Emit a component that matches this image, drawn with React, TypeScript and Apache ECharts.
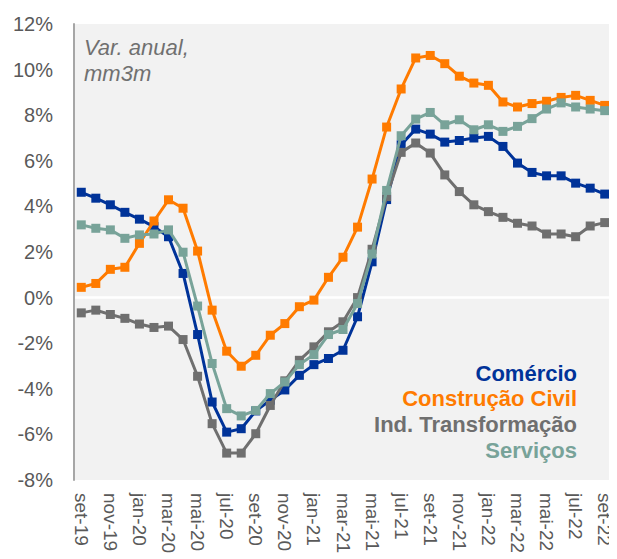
import React, { useEffect, useRef } from "react";
import * as echarts from "echarts";

const categories = [
  "set-19", "out-19", "nov-19", "dez-19", "jan-20", "fev-20", "mar-20", "abr-20", "mai-20", "jun-20",
  "jul-20", "ago-20", "set-20", "out-20", "nov-20", "dez-20", "jan-21", "fev-21", "mar-21", "abr-21",
  "mai-21", "jun-21", "jul-21", "ago-21", "set-21", "out-21", "nov-21", "dez-21", "jan-22", "fev-22",
  "mar-22", "abr-22", "mai-22", "jun-22", "jul-22", "ago-22", "set-22",
];

const comercio = [
  4.62, 4.36, 4.07, 3.74, 3.44, 3.11, 2.67, 1.06, -1.62, -4.58,
  -5.9, -5.75, -4.97, -4.5, -4.05, -3.41, -2.94, -2.67, -2.31, -0.84,
  1.57, 4.3, 6.7, 7.39, 7.17, 6.82, 6.89, 7.0, 7.07, 6.63,
  5.9, 5.49, 5.34, 5.34, 5.02, 4.8, 4.54,
];

const construcao = [
  0.45, 0.62, 1.24, 1.33, 2.38, 3.36, 4.29, 3.92, 2.04, -0.55,
  -2.35, -3.01, -2.53, -1.65, -1.14, -0.4, -0.11, 0.89, 1.77, 3.09,
  5.2, 7.48, 9.15, 10.51, 10.62, 10.26, 9.71, 9.41, 9.31, 8.58,
  8.36, 8.51, 8.61, 8.78, 8.87, 8.65, 8.43,
];

const industria = [
  -0.67, -0.55, -0.74, -0.91, -1.16, -1.31, -1.25, -1.84, -3.45, -5.53,
  -6.82, -6.82, -5.97, -4.73, -3.65, -2.75, -2.16, -1.5, -1.06, 0.0,
  2.12, 4.43, 6.37, 6.78, 6.34, 5.38, 4.65, 4.07, 3.77, 3.52,
  3.26, 3.14, 2.79, 2.79, 2.67, 3.14, 3.29,
];

const servicos = [
  3.19, 3.04, 2.97, 2.6, 2.75, 2.79, 2.97, 1.99, -0.37, -2.89,
  -4.87, -5.19, -4.95, -4.21, -3.7, -2.94, -2.5, -1.62, -1.4, -0.26,
  1.91, 4.7, 7.1, 7.83, 8.12, 7.58, 7.8, 7.36, 7.58, 7.29,
  7.51, 7.85, 8.27, 8.54, 8.36, 8.27, 8.2,
];

const seriesNames = ["Comércio", "Construção Civil", "Ind. Transformação", "Serviços"];
const seriesColors = ["#003399", "#FF7B00", "#6F6F6F", "#78A399"];
const seriesData = [comercio, construcao, industria, servicos];

const yMin = -8;
const yMax = 12;
const yInterval = 2;

const FONT = "'Liberation Sans', Arial, sans-serif";

export default function App() {
  const ref = useRef<HTMLDivElement>(null);

  useEffect(() => {
    if (!ref.current) return;
    const chart = echarts.init(ref.current, undefined, { renderer: "svg" });

    const splitColors: string[] = [];
    for (let v = yMin; v <= yMax; v += yInterval) {
      splitColors.push(v === 0 ? "#ffffff" : "rgba(0,0,0,0)");
    }

    chart.setOption({
      animation: false,
      grid: {
        left: 74,
        top: 24,
        right: 5,
        bottom: 79,
        show: true,
        backgroundColor: "#F2F2F2",
        borderWidth: 0,
      },
      xAxis: {
        type: "category",
        data: categories,
        boundaryGap: true,
        axisLine: { show: false },
        axisTick: { show: false },
        axisLabel: {
          interval: 1,
          rotate: -90,
          fontSize: 19,
          color: "#595959",
          fontFamily: FONT,
          margin: 13,
        },
      },
      yAxis: {
        type: "value",
        min: yMin,
        max: yMax,
        interval: yInterval,
        axisLine: { show: true, lineStyle: { color: "#A6A6A6", width: 2 } },
        axisTick: { show: false },
        axisLabel: {
          formatter: (v: number) => `${v}%`,
          fontSize: 20,
          color: "#595959",
          fontFamily: FONT,
          margin: 21,
        },
        splitLine: { show: true, lineStyle: { color: splitColors, width: 2.5 } },
      },
      series: seriesNames.map((name, i) => ({
        name,
        type: "line",
        data: seriesData[i],
        symbol: "rect",
        symbolSize: 9,
        showSymbol: true,
        lineStyle: { color: seriesColors[i], width: 3 },
        itemStyle: { color: seriesColors[i] },
        z: 2 + i,
      })),
      graphic: [
        {
          type: "text",
          left: 84,
          top: 34,
          style: {
            text: "Var. anual,\nmm3m",
            font: `italic 22px ${FONT}`,
            fill: "#707070",
            lineHeight: 26,
          },
        },
        ...seriesNames.map((name, i) => ({
          type: "text",
          x: 577,
          y: 373 + i * 25.7,
          style: {
            text: name,
            font: `bold 22px ${FONT}`,
            fill: seriesColors[i],
            textAlign: "right",
            textVerticalAlign: "middle",
          },
          z: 10,
        })),
      ],
    });

    return () => chart.dispose();
  }, []);

  return <div ref={ref} style={{ width: 617, height: 559, marginLeft: -8, marginTop: -8 }} />;
}
